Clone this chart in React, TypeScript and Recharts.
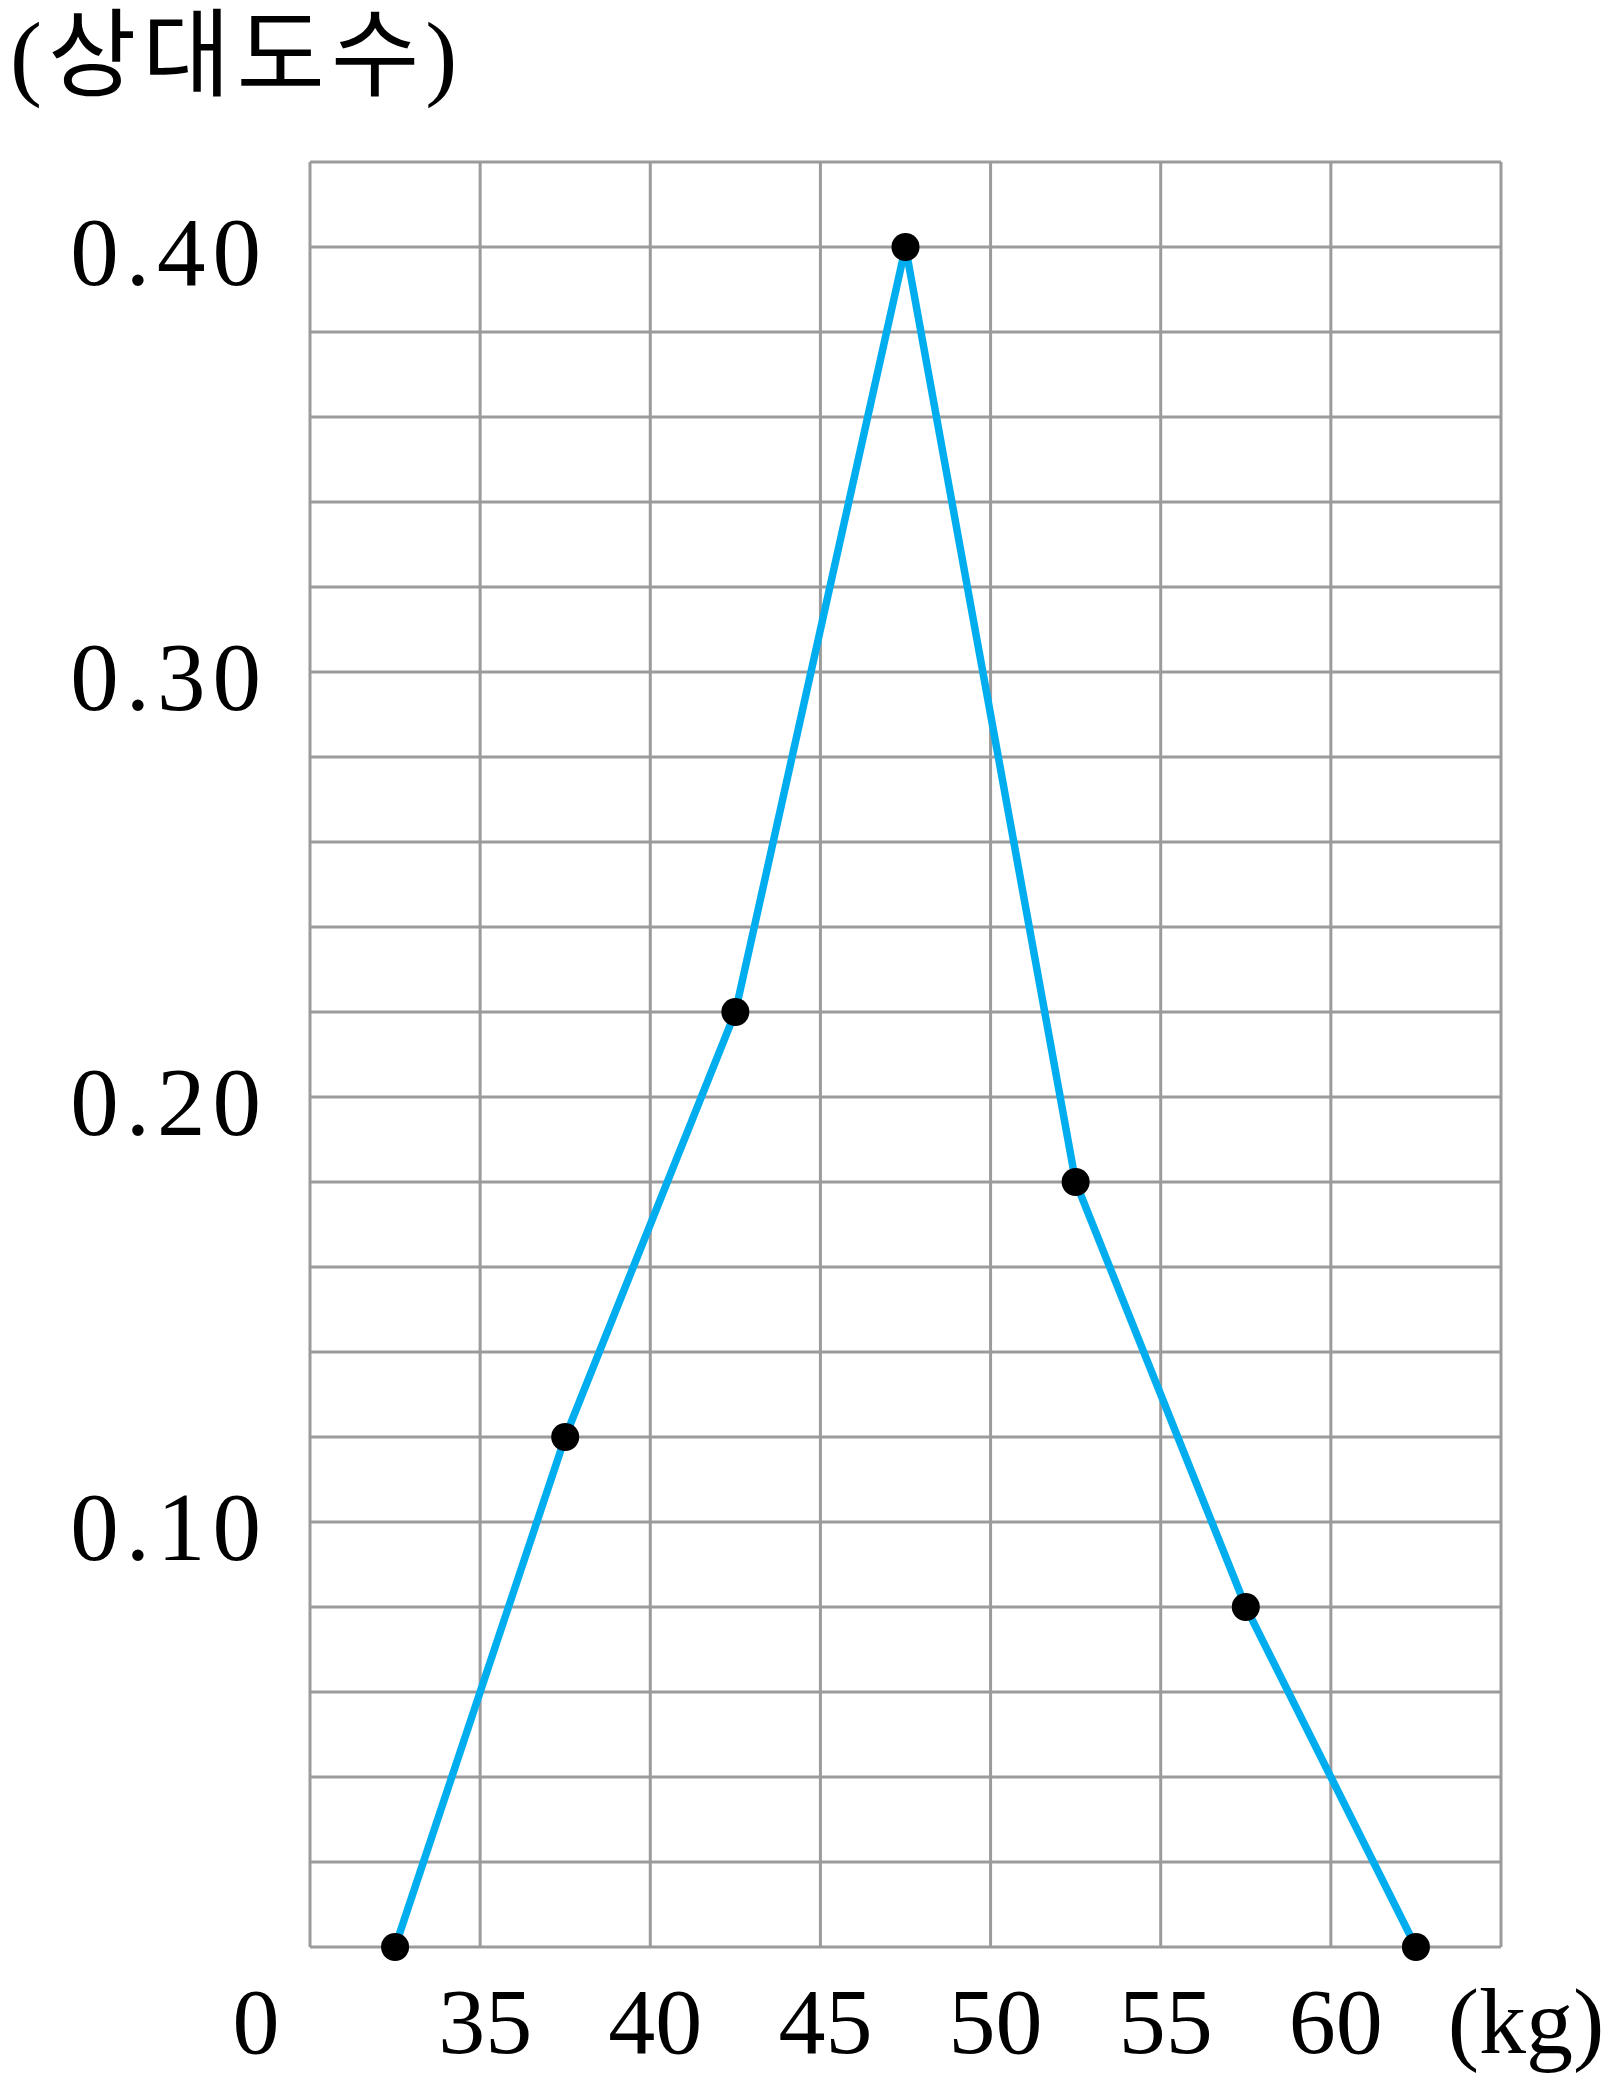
import { LineChart, Line, XAxis, YAxis, CartesianGrid } from 'recharts';

// class midpoints (kg) and relative frequency
const weights = [32.5, 37.5, 42.5, 47.5, 52.5, 57.5, 62.5];
const relFreq = [0, 0.12, 0.22, 0.4, 0.18, 0.08, 0];

const xTicks = [30, 35, 40, 45, 50, 55, 60, 65];
const xTickLabels = ['0', '35', '40', '45', '50', '55', '60', '(kg)'];

const yTicks = [0, 0.02, 0.04, 0.06, 0.08, 0.1, 0.12, 0.14, 0.16, 0.18, 0.2, 0.22, 0.24, 0.26, 0.28, 0.3, 0.32, 0.34, 0.36, 0.38, 0.4, 0.42];
const yLabelTicks = [0.1, 0.2, 0.3, 0.4];
const yTickLabels = ['0.10', '0.20', '0.30', '0.40'];

const data = weights.map((w, i) => ({ w, f: relFreq[i] }));

const SERIF = "'Liberation Serif', 'DejaVu Serif', serif";

const XTick = (props: any) => {
  const { x, payload } = props;
  const i = xTicks.indexOf(payload.value);
  if (i < 0) return null;
  let dx = 5;
  if (i === 0) dx = -54;
  if (i === xTicks.length - 1) dx = 25;
  return (
    <text x={x + dx} y={2053} textAnchor="middle" fontFamily={SERIF} fontSize={94} fill="#000">
      {xTickLabels[i]}
    </text>
  );
};

const YTick = (props: any) => {
  const { y, payload } = props;
  const i = yLabelTicks.findIndex((t) => Math.abs(t - payload.value) < 1e-6);
  if (i < 0) return null;
  return (
    <text x={268} y={y + 38} textAnchor="end" fontFamily={SERIF} fontSize={97} letterSpacing={7} fill="#000">
      {yTickLabels[i]}
    </text>
  );
};

export default function App() {
  return (
    <div style={{ position: 'absolute', left: 0, top: 0, width: 1612, height: 2081, background: '#fff' }}>
      <svg width={600} height={120} style={{ position: 'absolute', left: 0, top: 0 }}>
        <text x={10} y={88} fontFamily="'Liberation Serif', 'Noto Sans CJK KR', serif" fontSize={96} letterSpacing={6} fill="#000">
          (상대도수)
        </text>
      </svg>
      <div style={{ position: 'absolute', left: 0, top: 0 }}>
        <LineChart width={1612} height={2081} data={data} margin={{ top: 162, right: 111, bottom: 0, left: 0 }}>
          <CartesianGrid stroke="#9b9b9b" strokeWidth={3} />
          <XAxis
            dataKey="w"
            type="number"
            domain={[30, 65]}
            ticks={xTicks}
            height={134}
            axisLine={false}
            tickLine={false}
            tick={<XTick />}
            interval={0}
          />
          <YAxis
            type="number"
            domain={[0, 0.42]}
            ticks={yTicks}
            width={310}
            axisLine={false}
            tickLine={false}
            tick={<YTick />}
            interval={0}
          />
          <Line
            type="linear"
            dataKey="f"
            stroke="#00aeef"
            strokeWidth={7.5}
            dot={{ r: 14, fill: '#000', stroke: '#000', strokeWidth: 0 }}
            isAnimationActive={false}
          />
        </LineChart>
      </div>
    </div>
  );
}
